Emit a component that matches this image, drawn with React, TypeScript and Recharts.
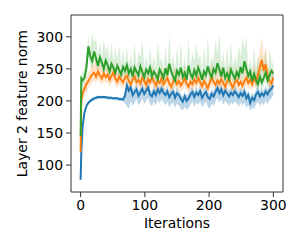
import { ComposedChart, Line, Area, XAxis, YAxis, ReferenceLine, Label } from "recharts";

// iteration at which each sample was logged
const ITERS = [
  0, 1, 3, 6, 9, 12, 15, 18, 21, 24, 27, 30, 33, 36, 39, 42, 45, 48, 51, 54, 57, 60, 63, 66, 69,
  72, 75, 78, 81, 84, 87, 90, 93, 96, 99, 102, 105, 108, 111, 114, 117, 120, 123, 126, 129, 132,
  135, 138, 141, 144, 147, 150, 153, 156, 159, 162, 165, 168, 171, 174, 177, 180, 183, 186, 189,
  192, 195, 198, 201, 204, 207, 210, 213, 216, 219, 222, 225, 228, 231, 234, 237, 240, 243, 246,
  249, 252, 255, 258, 261, 264, 267, 270, 273, 276, 279, 282, 285, 288, 291, 294, 297, 300,
];

const BLUE = [
  77, 118, 160, 182, 192, 197, 200, 202, 204, 205, 206, 206, 206, 206, 206, 205, 205, 205, 204, 204,
  204, 203, 203, 202, 208, 224, 216, 221, 209, 214, 218, 208, 213, 219, 211, 216, 221, 210, 207, 215,
  209, 218, 212, 219, 213, 209, 215, 206, 211, 214, 205, 212, 209, 203, 199, 207, 200, 204, 210, 214,
  206, 213, 209, 215, 205, 210, 214, 206, 203, 211, 207, 214, 220, 212, 218, 209, 216, 212, 207, 213,
  209, 215, 211, 206, 212, 208, 214, 204, 209, 197, 205, 201, 210, 214, 207, 212, 208, 215, 210, 216,
  219, 224,
];
const BLUE_LO = [
  75, 112, 154, 178, 189, 194, 197, 199, 201, 202, 203, 203, 203, 203, 203, 202, 202, 202, 201, 201,
  201, 200, 200, 199, 196, 192, 188, 200, 192, 198, 203, 193, 197, 204, 196, 200, 205, 195, 192, 199,
  193, 202, 196, 203, 198, 193, 199, 190, 195, 198, 189, 196, 193, 188, 185, 191, 186, 189, 194, 199,
  191, 197, 194, 199, 190, 195, 199, 191, 188, 196, 192, 199, 205, 197, 203, 194, 200, 197, 192, 198,
  194, 199, 196, 191, 197, 193, 198, 189, 194, 184, 190, 187, 195, 199, 192, 197, 193, 200, 195, 201,
  204, 209,
];
const BLUE_HI = [
  79, 122, 164, 185, 195, 200, 203, 205, 206, 207, 208, 208, 208, 208, 208, 207, 207, 207, 206, 206,
  206, 205, 205, 205, 216, 232, 224, 229, 218, 222, 227, 216, 221, 228, 219, 224, 230, 218, 215, 224,
  217, 226, 220, 228, 221, 217, 224, 214, 219, 223, 213, 221, 217, 211, 207, 215, 208, 212, 219, 223,
  214, 222, 217, 224, 213, 219, 223, 214, 211, 219, 215, 223, 229, 220, 227, 217, 225, 220, 215, 222,
  217, 224, 219, 214, 221, 216, 223, 212, 217, 205, 213, 209, 219, 223, 215, 221, 216, 224, 218, 225,
  232, 246,
];

const ORANGE = [
  120, 200, 212, 219, 226, 231, 236, 241, 244, 238, 246, 240, 235, 243, 237, 241, 233, 239, 244, 235,
  230, 238, 233, 229, 236, 239, 231, 226, 234, 238, 229, 233, 227, 236, 231, 225, 234, 229, 237, 230,
  224, 232, 228, 235, 226, 231, 236, 227, 222, 230, 234, 226, 231, 224, 229, 235, 227, 222, 230, 226,
  233, 228, 236, 229, 223, 231, 226, 220, 229, 237, 230, 225, 232, 227, 234, 228, 222, 230, 235, 226,
  221, 229, 233, 225, 230, 224, 231, 236, 228, 233, 226, 235, 230, 241, 252, 264, 247, 257, 239, 231,
  227, 236,
];
const ORANGE_LO = [
  118, 185, 200, 208, 214, 220, 224, 228, 232, 228, 234, 229, 225, 232, 227, 230, 223, 228, 232, 224,
  220, 227, 222, 219, 225, 228, 221, 216, 223, 227, 219, 222, 217, 225, 220, 215, 223, 219, 226, 220,
  214, 221, 218, 224, 216, 220, 225, 217, 212, 219, 223, 216, 220, 214, 218, 224, 217, 212, 219, 216,
  222, 218, 225, 219, 213, 220, 216, 210, 218, 226, 220, 215, 221, 217, 223, 218, 212, 219, 224, 216,
  211, 218, 222, 215, 219, 214, 220, 225, 218, 222, 216, 224, 219, 229, 238, 246, 233, 241, 226, 219,
  215, 224,
];
const ORANGE_HI = [
  122, 212, 222, 230, 238, 244, 250, 258, 256, 266, 258, 262, 247, 260, 249, 258, 245, 253, 260, 247,
  242, 255, 245, 241, 252, 256, 243, 238, 250, 256, 241, 249, 239, 254, 243, 237, 252, 241, 255, 242,
  236, 249, 240, 254, 238, 245, 256, 239, 234, 246, 254, 238, 247, 236, 243, 256, 239, 234, 247, 238,
  252, 240, 258, 241, 235, 248, 238, 232, 244, 260, 242, 237, 250, 239, 255, 240, 234, 246, 257, 238,
  233, 244, 254, 237, 245, 236, 248, 262, 240, 252, 238, 258, 245, 265, 280, 300, 268, 284, 256, 246,
  240, 252,
];

const GREEN = [
  145, 235, 232, 236, 252, 285, 270, 262, 277, 266, 255, 268, 260, 250, 263, 256, 246, 258, 252, 244,
  255, 248, 241, 253, 247, 256, 243, 250, 238, 252, 246, 240, 254, 245, 237, 249, 243, 252, 238, 246,
  241, 234, 249, 243, 236, 251, 240, 258, 246, 238, 232, 247, 241, 252, 237, 244, 233, 255, 242, 236,
  248, 240, 252, 244, 233, 246, 240, 254, 243, 237, 250, 244, 259, 249, 238, 252, 236, 243, 234, 249,
  241, 235, 245, 238, 253, 243, 262, 250, 239, 246, 231, 242, 233, 226, 238, 229, 236, 244, 232, 240,
  247, 243,
];
const GREEN_LO = [
  143, 226, 224, 227, 240, 268, 256, 249, 262, 253, 243, 254, 247, 238, 250, 243, 234, 245, 240, 232,
  242, 236, 230, 240, 235, 243, 231, 238, 227, 239, 234, 229, 241, 233, 226, 237, 231, 239, 227, 234,
  229, 223, 236, 231, 225, 238, 229, 244, 234, 227, 221, 234, 229, 239, 226, 232, 222, 241, 230, 225,
  235, 229, 239, 232, 222, 234, 229, 241, 231, 226, 237, 232, 245, 237, 227, 239, 225, 231, 223, 236,
  229, 224, 233, 227, 240, 231, 248, 237, 228, 234, 220, 230, 222, 215, 226, 218, 224, 232, 221, 228,
  235, 232,
];
const GREEN_HI = [
  147, 245, 242, 250, 268, 300, 282, 308, 290, 298, 272, 290, 268, 295, 275, 286, 264, 292, 262, 283,
  265, 288, 258, 280, 257, 286, 256, 274, 255, 290, 254, 276, 268, 295, 254, 272, 252, 288, 253, 270,
  251, 292, 262, 268, 250, 285, 252, 304, 254, 272, 249, 284, 251, 293, 250, 270, 248, 298, 252, 276,
  262, 290, 265, 272, 248, 286, 252, 300, 253, 270, 262, 296, 272, 306, 254, 278, 249, 286, 250, 294,
  252, 270, 258, 288, 268, 302, 280, 300, 251, 268, 246, 284, 248, 270, 252, 275, 250, 282, 245, 280,
  262, 258,
];

const X_TICKS = [0, 100, 200, 300];
const Y_TICKS = [100, 150, 200, 250, 300];

const rows = ITERS.map((it, i) => ({
  it,
  blue: BLUE[i],
  blueBand: [BLUE_LO[i], BLUE_HI[i]],
  orange: ORANGE[i],
  orangeBand: [ORANGE_LO[i], ORANGE_HI[i]],
  green: GREEN[i],
  greenBand: [GREEN_LO[i], GREEN_HI[i]],
}));

const FONT = "DejaVu Sans";
const tickStyle = { fontFamily: FONT, fontSize: 13.9, fill: "#000" };
const axisColor = "#333";

export default function App() {
  return (
    <div style={{ position: "absolute", left: 0, top: 0 }}>
      <ComposedChart
        width={300}
        height={250}
        data={rows}
        margin={{ top: 15, right: 17, left: 21, bottom: 28 }}
      >
        <XAxis
          dataKey="it"
          type="number"
          domain={[-15, 315]}
          ticks={X_TICKS}
          allowDataOverflow
          height={30}
          tick={tickStyle}
          tickSize={5}
          tickMargin={3}
          stroke={axisColor}
        >
          <Label
            content={() => (
              <text x={177} y={228} textAnchor="middle" fontFamily={FONT} fontSize={13.9} fill="#000">
                Iterations
              </text>
            )}
          />
        </XAxis>
        <YAxis
          type="number"
          domain={[58, 334]}
          ticks={Y_TICKS}
          allowDataOverflow
          width={50}
          tick={tickStyle}
          tickSize={5}
          tickMargin={3}
          stroke={axisColor}
        >
          <Label
            content={() => (
              <text
                x={27}
                y={103.5}
                transform="rotate(-90 27 103.5)"
                textAnchor="middle"
                fontFamily={FONT}
                fontSize={13.9}
                fill="#000"
              >
                Layer 2 feature norm
              </text>
            )}
          />
        </YAxis>
        <ReferenceLine x={315} stroke={axisColor} />
        <ReferenceLine y={334} stroke={axisColor} />

        <Area dataKey="blueBand" type="linear" stroke="none" fill="#1f77b4" fillOpacity={0.3} isAnimationActive={false} />
        <Line dataKey="blue" type="linear" stroke="#1f77b4" strokeWidth={2} dot={false} isAnimationActive={false} />
        <Area dataKey="orangeBand" type="linear" stroke="none" fill="#ff7f0e" fillOpacity={0.22} isAnimationActive={false} />
        <Line dataKey="orange" type="linear" stroke="#ff7f0e" strokeWidth={2} dot={false} isAnimationActive={false} />
        <Area dataKey="greenBand" type="linear" stroke="none" fill="#2ca02c" fillOpacity={0.18} isAnimationActive={false} />
        <Line dataKey="green" type="linear" stroke="#2ca02c" strokeWidth={2} dot={false} isAnimationActive={false} />
      </ComposedChart>
    </div>
  );
}
